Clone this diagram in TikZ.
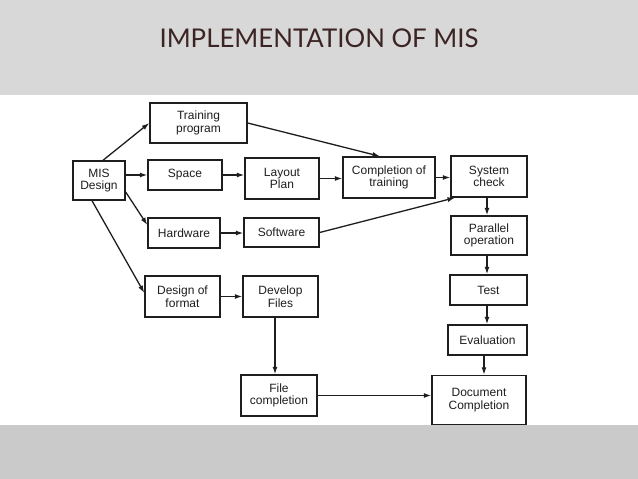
\documentclass[tikz,border=0pt]{standalone}
\usepackage{fontspec}
\setmainfont{Liberation Sans}
\newfontfamily\titlefont{Lato}
\usetikzlibrary{arrows.meta,calc}
\definecolor{bgtop}{RGB}{216,216,216}
\definecolor{bgbot}{RGB}{202,202,202}
\definecolor{titlecol}{RGB}{60,36,36}
\definecolor{ink}{RGB}{30,30,30}
\begin{document}
\begin{tikzpicture}[x=1pt,y=-1pt,
  box/.style={draw=ink,line width=1.4pt,rectangle,inner sep=0pt,align=center,
    font=\fontsize{12}{12.5}\selectfont,text=ink},
  arr/.style={draw=ink,line width=1.3pt,-{Latex[length=7.5pt,width=5pt]}}]
\useasboundingbox (0,0) rectangle (638,479);
\fill[bgtop] (0,0) rectangle (638,95);
\fill[white] (0,95) rectangle (638,425);
\fill[bgbot] (0,425) rectangle (638,479);
\node[text=titlecol,font=\titlefont\fontsize{25.8}{26}\selectfont,anchor=base] (title) at (319,47) {IMPLEMENTATION OF MIS};

\node[box,minimum width=52pt,minimum height=39pt] (mis) at (99,180.5) {MIS\\Design};
\node[box,minimum width=97pt,minimum height=40pt] (train) at (198.5,123) {Training\\program};
\node[box,minimum width=74pt,minimum height=30pt] (space) at (185,175) {Space};
\node[box,minimum width=74pt,minimum height=41pt] (layout) at (282,178.5) {Layout\\Plan};
\node[box,minimum width=72pt,minimum height=30pt] (hard) at (184,233) {Hardware};
\node[box,minimum width=75pt,minimum height=29pt] (soft) at (281.5,232.5) {Software};
\node[box,minimum width=92pt,minimum height=41pt] (comp) at (389,177.5) {Completion of\\training};
\node[box,minimum width=76pt,minimum height=41pt] (sys) at (489,176.5) {System\\check};
\node[box,minimum width=76pt,minimum height=39pt] (par) at (489,235.5) {Parallel\\operation};
\node[box,minimum width=75pt,minimum height=41pt] (dof) at (182.5,296.5) {Design of\\format};
\node[box,minimum width=75pt,minimum height=41pt] (dev) at (280.5,296.5) {Develop\\Files};
\node[box,minimum width=76pt,minimum height=41pt] (filec) at (279,395.5) {File\\completion};
\node[box,minimum width=77pt,minimum height=30pt] (test) at (488.5,290) {Test};
\node[box,minimum width=79pt,minimum height=30pt] (eval) at (487.5,340) {Evaluation};
\node[box,minimum width=94pt,minimum height=49pt] (doc) at (479,400) {Document\\Completion};

\coordinate (p1) at ([xshift=-2pt]par.south);
\coordinate (t1) at ([xshift=-1.5pt]test.south);
\coordinate (e1) at ([xshift=-3.5pt]eval.south);
\coordinate (d1) at ([xshift=-5.5pt]dev.south);

\draw[arr] ([xshift=4pt]mis.north) -- (train.west);
\draw[arr] (mis.east |- space.west) -- (space.west);
\draw[arr] ([yshift=-11.5pt]mis.east) -- ([yshift=8pt]hard.west);
\draw[arr] ([xshift=-7pt]mis.south) -- ([yshift=3.5pt]dof.west);
\draw[arr] (space.east) -- (layout.west |- space.east);
\draw[arr] (hard.east) -- (soft.west |- hard.east);
\draw[arr] (dof.east) -- (dev.west);
\draw[arr] (train.east) -- ([xshift=-9pt]comp.north);
\draw[arr] (layout.east) -- (comp.west |- layout.east);
\draw[arr] (soft.east) -- ([xshift=-34pt]sys.south);
\draw[arr] (comp.east) -- (sys.west |- comp.east);
\draw[arr] ([xshift=-2pt]sys.south) -- ([xshift=-2pt]par.north);
\draw[arr] (p1) -- (test.north -| p1);
\draw[arr] (t1) -- (eval.north -| t1);
\draw[arr] (e1) -- (doc.north -| e1);
\draw[arr] (d1) -- (filec.north -| d1);
\draw[arr] (filec.east) -- (doc.west |- filec.east);
\end{tikzpicture}
\end{document}
